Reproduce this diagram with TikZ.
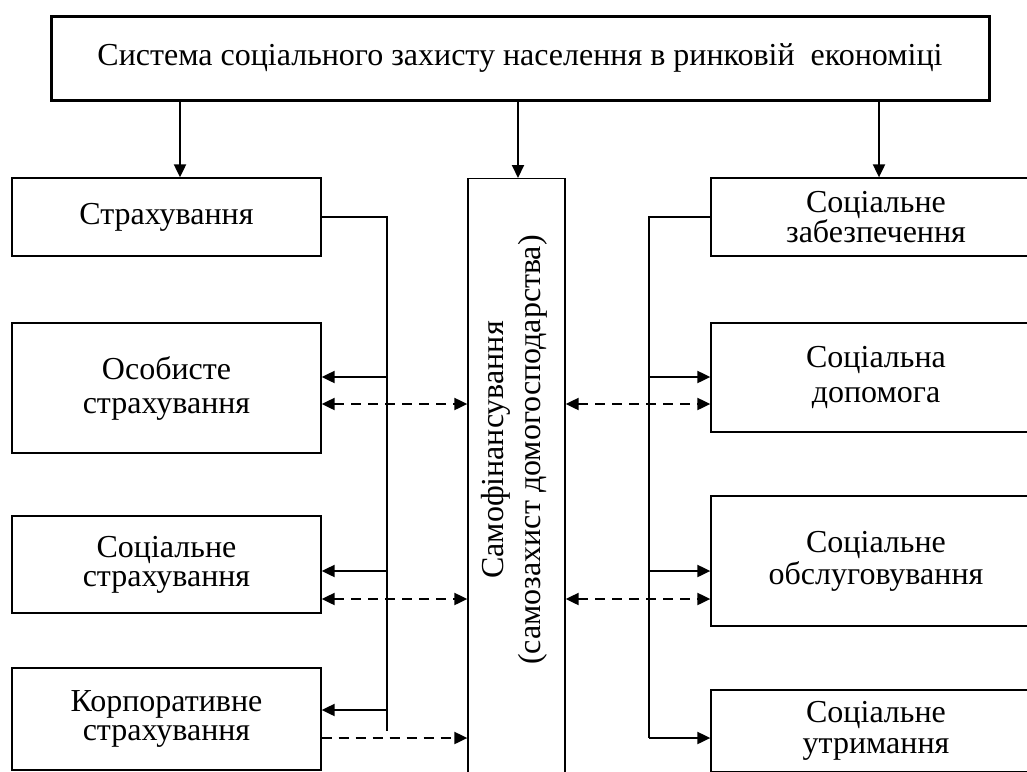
\documentclass[tikz,border=0pt]{standalone}
\usepackage{fontspec}
\setmainfont{Liberation Serif}
\usetikzlibrary{arrows.meta}

\begin{document}
\begin{tikzpicture}[x=1pt,y=-1pt,
    box/.style={draw,line width=1.3pt,inner sep=0pt,align=center,font=\fontsize{32}{32}\selectfont},
    line/.style={line width=1.3pt},
    arr/.style={line width=2pt,-{Triangle[length=13pt,width=12pt]}},
    darr/.style={line width=2pt,dash pattern=on 10pt off 7pt,{Triangle[length=13pt,width=12pt]}-{Triangle[length=13pt,width=12pt]}},
    sarr/.style={line width=2pt,dash pattern=on 10pt off 7pt,-{Triangle[length=13pt,width=12pt]}}]
    \useasboundingbox (0,0) rectangle (1027,771);
    \clip (0,0) rectangle (1027,771);

    \node[box,line width=3pt,minimum width=938,minimum height=84] (top) at (520,58) {Система соціального захисту населення в ринковій~ економіці};

    \node[box,minimum width=309,minimum height=78] (strah) at (166.5,217) {Страхування};
    \node[box,minimum width=309,minimum height=130,font=\fontsize{32}{34}\selectfont] (osob) at (166.5,388) {Особисте\\страхування};
    \node[box,minimum width=309,minimum height=97,font=\fontsize{32}{29}\selectfont] (socstrah) at (166.5,564.5) {Соціальне\\страхування};
    \node[box,minimum width=309,minimum height=102,font=\fontsize{32}{29}\selectfont] (korp) at (166.5,719) {Корпоративне\\страхування};

    \node[draw,line width=1.3pt,minimum width=97,minimum height=640,anchor=north] (mid) at (516.5,178) {};
    \node[rotate=90,align=center,font=\fontsize{32}{37}\selectfont] (midtxt) at (514,450) {Самофінансування\\(самозахист домогосподарства)};

    \node[box,minimum width=330,minimum height=78,font=\fontsize{32}{26}\selectfont] (zab) at (876,217) {Соціальне\\забезпечення};
    \node[box,minimum width=330,minimum height=109,font=\fontsize{32}{35}\selectfont] (dop) at (876,377.5) {Соціальна\\допомога};
    \node[box,minimum width=330,minimum height=130] (obsl) at (876,561) {Соціальне\\обслуговування};
    \node[box,minimum width=330,minimum height=82,font=\fontsize{32}{31}\selectfont] (utr) at (876,731) {Соціальне\\утримання};

    \foreach \x/\n in {180/strah,518/mid,879/zab}{
        \coordinate (t\n) at (\x,0);
        \draw[arr] (t\n |- top.south) -- (t\n |- \n.north);
    }

    \coordinate (bl) at (387,731);
    \draw[line] (strah.east) -| (bl);
    \foreach \n/\y in {osob/377,socstrah/571,korp/710}{
        \coordinate (p) at (387,\y);
        \draw[arr] (p) -- (p -| \n.east);
    }
    \foreach \n/\y in {osob/404,socstrah/599}{
        \coordinate (q) at (0,\y);
        \draw[darr] (q -| \n.east) -- (q -| mid.west);
    }
    \coordinate (q) at (0,738);
    \draw[sarr] (q -| korp.east) -- (q -| mid.west);

    \coordinate (br) at (649,738);
    \draw[line] (zab.west) -| (br);
    \foreach \n/\y in {dop/377,obsl/571,utr/738}{
        \coordinate (p) at (649,\y);
        \draw[arr] (p) -- (p -| \n.west);
    }
    \foreach \n/\y in {dop/404,obsl/599}{
        \coordinate (q) at (0,\y);
        \draw[darr] (q -| mid.east) -- (q -| \n.west);
    }
\end{tikzpicture}
\end{document}
